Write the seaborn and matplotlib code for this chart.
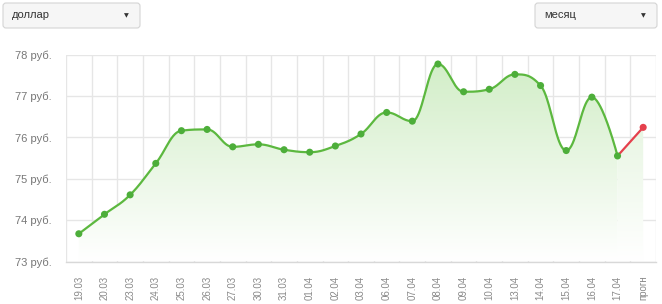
import numpy as np
import pandas as pd
import matplotlib
matplotlib.use("Agg")
import matplotlib.pyplot as plt
import seaborn as sns
from matplotlib.patches import FancyBboxPatch, Polygon
from matplotlib.transforms import IdentityTransform
from matplotlib.colors import LinearSegmentedColormap

# ---- data ----
dates = ["19.03", "20.03", "23.03", "24.03", "25.03", "26.03", "27.03", "30.03",
         "31.03", "01.04", "02.04", "03.04", "06.04", "07.04", "08.04", "09.04",
         "10.04", "13.04", "14.04", "15.04", "16.04", "17.04"]
rates = [73.67, 74.14, 74.61, 75.37, 76.16, 76.19, 75.77, 75.83,
         75.70, 75.64, 75.79, 76.08, 76.60, 76.39, 77.77, 77.10,
         77.16, 77.52, 77.25, 75.68, 76.97, 75.55]
forecast_label = "прогн"
forecast_value = 76.24
ytick_values = [73, 74, 75, 76, 77, 78]
ytick_labels = ["73 руб.", "74 руб.", "75 руб.", "76 руб.", "77 руб.", "78 руб."]
currency_label = "доллар"
period_label = "месяц"

GREEN = "#5cb83f"
GREEN_DOT = "#4dae3a"
RED = "#e5404d"
GRID = "#e6e6e6"
TXT = "#777777"


def spline(xs, ys, steps=40, smoothing=1.5):
    """Cubic bezier path through the points (chart-style spline)."""
    n = len(xs)
    denom = smoothing + 1
    lc = [(xs[i], ys[i]) for i in range(n)]
    rc = [(xs[i], ys[i]) for i in range(n)]
    for i in range(1, n - 1):
        px, py = xs[i], ys[i]
        lx, ly = xs[i - 1], ys[i - 1]
        nx, ny = xs[i + 1], ys[i + 1]
        lcx = (smoothing * px + lx) / denom
        lcy = (smoothing * py + ly) / denom
        rcx = (smoothing * px + nx) / denom
        rcy = (smoothing * py + ny) / denom
        corr = 0.0
        if rcx != lcx:
            corr = (rcy - lcy) * (rcx - px) / (rcx - lcx) + py - rcy
        lcy += corr
        rcy += corr
        if lcy > ly and lcy > py:
            lcy = max(ly, py); rcy = 2 * py - lcy
        elif lcy < ly and lcy < py:
            lcy = min(ly, py); rcy = 2 * py - lcy
        if rcy > ny and rcy > py:
            rcy = max(ny, py); lcy = 2 * py - rcy
        elif rcy < ny and rcy < py:
            rcy = min(ny, py); lcy = 2 * py - rcy
        lc[i] = (lcx, lcy)
        rc[i] = (rcx, rcy)
    ox, oy = [xs[0]], [ys[0]]
    t = np.linspace(0, 1, steps)[1:]
    for i in range(1, n):
        p0 = np.array([xs[i - 1], ys[i - 1]])
        c1 = np.array(rc[i - 1])
        c2 = np.array(lc[i])
        p3 = np.array([xs[i], ys[i]])
        pts = ((1 - t)[:, None] ** 3 * p0 + 3 * ((1 - t) ** 2 * t)[:, None] * c1
               + 3 * ((1 - t) * t ** 2)[:, None] * c2 + (t ** 3)[:, None] * p3)
        ox.extend(pts[:, 0]); oy.extend(pts[:, 1])
    return np.array(ox), np.array(oy)


sns.set_style("white")
plt.rcParams["font.family"] = ["Liberation Sans", "DejaVu Sans"]

fig = plt.figure(figsize=(6.62, 3.04), dpi=100)
W, H = 662, 304
ax = fig.add_axes([66 / W, 1 - 261.5 / H, 590 / W, (261.5 - 54.5) / H])

labels = dates + [forecast_label]
n = len(labels)
xi = np.arange(len(dates))
df = pd.DataFrame({"x": xi, "rate": rates})

sx, sy = spline(list(xi.astype(float)), rates)
curve = pd.DataFrame({"x": sx, "rate": sy})

ymin, ymax = ytick_values[0], ytick_values[-1]
ax.set_xlim(-0.5, n - 0.5)
ax.set_ylim(ymin, ymax)

# gradient fills
grad = np.linspace(0, 1, 256).reshape(-1, 1)
cmap_g = LinearSegmentedColormap.from_list("g", ["#ffffff", "#d0edc5"])
img = ax.imshow(grad, extent=(-0.5, n - 0.5, ymin, ymax), origin="lower",
                aspect="auto", cmap=cmap_g, zorder=1, vmin=0, vmax=1)
poly = Polygon(np.column_stack([np.r_[sx, sx[-1], sx[0]], np.r_[sy, ymin, ymin]]),
               closed=True, transform=ax.transData, facecolor="none", edgecolor="none")
ax.add_patch(poly)
img.set_clip_path(poly)

cmap_r = LinearSegmentedColormap.from_list("r", ["#ffffff", "#dcf1d4"])
img2 = ax.imshow(grad, extent=(-0.5, n - 0.5, ymin, ymax), origin="lower",
                 aspect="auto", cmap=cmap_r, zorder=1, vmin=0, vmax=1)
fx = [len(dates) - 1, len(dates)]
fy = [rates[-1], forecast_value]
poly2 = Polygon([(fx[0], fy[0]), (fx[1], fy[1]), (fx[1], ymin), (fx[0], ymin)],
                closed=True, transform=ax.transData, facecolor="none", edgecolor="none")
ax.add_patch(poly2)
img2.set_clip_path(poly2)

# lines
sns.lineplot(data=curve, x="x", y="rate", ax=ax, color=GREEN, linewidth=1.6,
             sort=False, estimator=None, zorder=4)
fc = pd.DataFrame({"x": fx, "rate": fy})
sns.lineplot(data=fc, x="x", y="rate", ax=ax, color=RED, linewidth=1.6,
             estimator=None, zorder=4)
sns.scatterplot(data=df, x="x", y="rate", ax=ax, color=GREEN_DOT, s=26,
                edgecolor="none", zorder=5)
sns.scatterplot(x=[fx[1]], y=[forecast_value], ax=ax, color=RED, s=26,
                edgecolor="none", zorder=5)

# grid / ticks
ax.set_xticks(np.arange(n))
ax.set_xticklabels(labels, rotation=90, fontsize=7, color="#8a8a8a")
ax.set_xticks(np.arange(n + 1) - 0.5, minor=True)
ax.set_yticks(ytick_values)
ax.set_yticklabels(ytick_labels, fontsize=8, color=TXT)
ax.tick_params(axis="x", which="major", length=0, pad=10)
ax.tick_params(axis="x", which="minor", length=6, color=GRID, width=1)
ax.tick_params(axis="y", length=0, pad=10)
ax.grid(False)
ax.grid(True, axis="x", which="minor", color=GRID, linewidth=1, zorder=0)
ax.grid(True, axis="y", which="major", color=GRID, linewidth=1, zorder=0)
ax.set_axisbelow(True)
for s in ["top", "right", "left"]:
    ax.spines[s].set_visible(False)
ax.spines["bottom"].set_color("#d8d8d8")
ax.spines["bottom"].set_linewidth(1)
ax.set_xlabel("")
ax.set_ylabel("")

# dropdown widgets
def dropdown(x0, x1, y0, y1, text):
    box = FancyBboxPatch((x0, H - y1), x1 - x0, y1 - y0,
                         boxstyle="round,pad=0,rounding_size=3",
                         transform=IdentityTransform(), facecolor="#f6f6f6",
                         edgecolor="#d4d4d4", linewidth=0.8)
    fig.add_artist(box)
    fig.text((x0 + 9) / W, 1 - ((y0 + y1) / 2) / H, text, fontsize=8,
             color="#333333", va="center", ha="left")
    fig.text((x1 - 14) / W, 1 - ((y0 + y1) / 2) / H, "▼", fontsize=4.5,
             color="#333333", va="center", ha="center", family="DejaVu Sans")

dropdown(3, 140, 3, 28, currency_label)
dropdown(535, 657, 3, 28, period_label)

fig.savefig("out.png", dpi=100)
